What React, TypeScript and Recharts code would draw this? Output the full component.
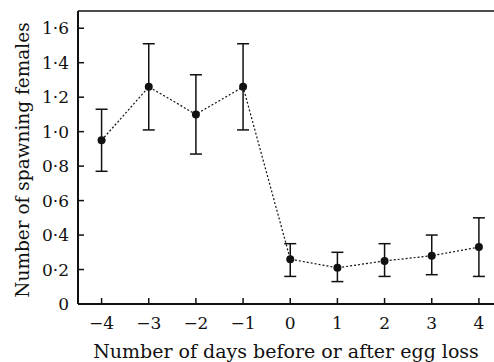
import React from "react";
import {
  ComposedChart,
  Line,
  XAxis,
  YAxis,
  ErrorBar,
  ReferenceLine,
  Label,
} from "recharts";

const days = [-4, -3, -2, -1, 0, 1, 2, 3, 4];
const means = [0.95, 1.26, 1.1, 1.26, 0.26, 0.21, 0.25, 0.28, 0.33];
const upper = [1.13, 1.51, 1.33, 1.51, 0.35, 0.3, 0.35, 0.4, 0.5];
const lower = [0.77, 1.01, 0.87, 1.01, 0.16, 0.13, 0.16, 0.17, 0.16];
const xTicks = [-4, -3, -2, -1, 0, 1, 2, 3, 4];
const yTicks = [0, 0.2, 0.4, 0.6, 0.8, 1.0, 1.2, 1.4, 1.6];

const data = days.map((d, i) => ({
  day: d,
  mean: means[i],
  err: [means[i] - lower[i], upper[i] - means[i]],
}));

const FONT = "'DejaVu Serif', 'Liberation Serif', serif";
const INK = "#111";

const fmtY = (v: number) => (v === 0 ? "0" : v.toFixed(1).replace(".", "\u00b7"));
const fmtX = (v: number) => (v < 0 ? "\u2212" + Math.abs(v) : String(v));

const YTick = (props: any) => {
  const { x, y, payload } = props;
  return (
    <g>
      <line x1={x} x2={x + 6} y1={y} y2={y} stroke={INK} strokeWidth={1.5} />
      <text
        x={x - 9}
        y={y}
        textAnchor="end"
        dominantBaseline="central"
        fontFamily={FONT}
        fontSize={17}
        fill={INK}
      >
        {fmtY(payload.value)}
      </text>
    </g>
  );
};

const XTick = (props: any) => {
  const { x, y, payload } = props;
  return (
    <g>
      <line x1={x} x2={x} y1={y} y2={y - 6} stroke={INK} strokeWidth={1.5} />
      <text
        x={x}
        y={y + 19}
        textAnchor="middle"
        dominantBaseline="central"
        fontFamily={FONT}
        fontSize={17}
        fill={INK}
      >
        {fmtX(payload.value)}
      </text>
    </g>
  );
};

export default function App() {
  return (
    <div style={{ position: "absolute", left: 0, top: 0, background: "#fff" }}>
      <ComposedChart
        width={494}
        height={362}
        data={data}
        margin={{ top: 11, right: 0, left: 0, bottom: 0 }}
      >
        <XAxis
          dataKey="day"
          type="number"
          domain={[-4.5, 4.32]}
          ticks={xTicks}
          tickLine={false}
          tickSize={0}
          tickMargin={0}
          tick={<XTick />}
          height={58}
          axisLine={{ stroke: INK, strokeWidth: 2 }}
          allowDataOverflow
        >
          <Label
            content={(p: any) => {
              const vb = p.viewBox || {};
              return (
                <text
                  x={vb.x + vb.width / 2}
                  y={351}
                  textAnchor="middle"
                  dominantBaseline="central"
                  fontFamily={FONT}
                  fontSize={19}
                  fill={INK}
                >
                  Number of days before or after egg loss
                </text>
              );
            }}
          />
        </XAxis>
        <YAxis
          type="number"
          domain={[0, 1.7]}
          ticks={yTicks}
          tickLine={false}
          tickSize={0}
          tickMargin={0}
          tick={<YTick />}
          width={78}
          axisLine={{ stroke: INK, strokeWidth: 2 }}
          allowDataOverflow
        >
          <Label
            content={(p: any) => {
              const cy = 160;
              return (
                <text
                  x={22}
                  y={cy}
                  transform={`rotate(-90 22 ${cy})`}
                  textAnchor="middle"
                  dominantBaseline="central"
                  fontFamily={FONT}
                  fontSize={18.5}
                  fill={INK}
                >
                  Number of spawning females
                </text>
              );
            }}
          />
        </YAxis>
        <ReferenceLine y={1.7} stroke={INK} strokeWidth={1.5} />
        <Line
          dataKey="mean"
          stroke={INK}
          strokeWidth={1.2}
          strokeDasharray="2 2"
          dot={{ r: 4, fill: INK, stroke: INK, strokeWidth: 0 }}
          isAnimationActive={false}
        >
          <ErrorBar dataKey="err" width={6} stroke={INK} strokeWidth={1.5} />
        </Line>
      </ComposedChart>
    </div>
  );
}
